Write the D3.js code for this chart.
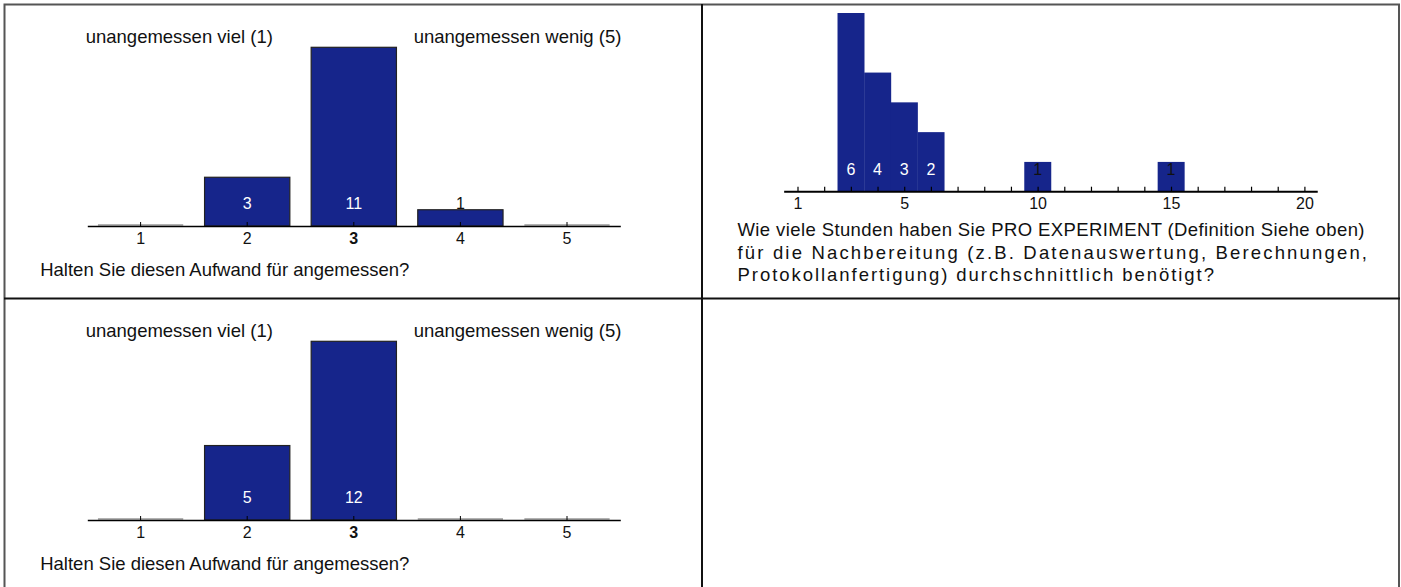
<!DOCTYPE html>
<html><head><meta charset="utf-8">
<script src="https://cdn.jsdelivr.net/npm/d3@7"></script>
<style>
html,body{margin:0;padding:0;background:#fff;}
svg{display:block;font-family:"Liberation Sans",Arial,sans-serif;}
</style></head>
<body>
<svg id="chart" width="1401" height="587"></svg>
<script>
// ---- data ----
const ratingCategories = [1, 2, 3, 4, 5];
const ratingCountsTop = [0, 3, 11, 1, 0];
const ratingCountsBottom = [0, 5, 12, 0, 0];
const ratingBoldTick = 3;
const ratingLabelLeft = "unangemessen viel (1)";
const ratingLabelRight = "unangemessen wenig (5)";
const ratingQuestion = "Halten Sie diesen Aufwand für angemessen?";

const hoursValues = [3, 4, 5, 6, 10, 15];
const hoursCounts = [6, 4, 3, 2, 1, 1];
const hoursTicks = d3.range(1, 21);
const hoursTickLabels = [1, 5, 10, 15, 20];
const hoursQuestion = [
  "Wie viele Stunden haben Sie PRO EXPERIMENT (Definition Siehe oben)",
  "für die Nachbereitung (z.B. Datenauswertung, Berechnungen,",
  "Protokollanfertigung) durchschnittlich benötigt?"
];

// ---- drawing ----
const svg = d3.select("#chart");
const BAR = "#16258b";
const TXT = "#111";
const BIG = 18.5, SMALL = 16;

// frame
svg.append("rect").attr("x", 4.5).attr("y", 4.5).attr("width", 1394.5).attr("height", 590)
  .attr("fill", "none").attr("stroke", "#555").attr("stroke-width", 2);
svg.append("line").attr("x1", 702).attr("x2", 702).attr("y1", 4).attr("y2", 587)
  .attr("stroke", "#111").attr("stroke-width", 2);
svg.append("line").attr("x1", 4).attr("x2", 1400).attr("y1", 298.5).attr("y2", 298.5)
  .attr("stroke", "#111").attr("stroke-width", 2);

function ratingPanel(counts, dy) {
  const g = svg.append("g").attr("transform", `translate(0,${dy})`);
  const x = d3.scaleBand().domain(ratingCategories).range([87.3, 620.3]).paddingInner(0.2).paddingOuter(0.1);
  const base = 226;
  const y = d3.scaleLinear().domain([0, d3.max(counts)]).range([base, 47.3]);
  const data = ratingCategories.map((c, i) => ({c, v: counts[i]}));

  g.append("text").attr("x", 85.7).attr("y", 36).attr("dominant-baseline", "central")
    .attr("font-size", BIG).attr("fill", TXT).text(ratingLabelLeft);
  g.append("text").attr("x", 621.4).attr("y", 36).attr("dominant-baseline", "central")
    .attr("text-anchor", "end").attr("font-size", BIG).attr("fill", TXT).text(ratingLabelRight);

  // zero-height baseline marks
  g.selectAll("line.zero").data(data).join("line")
    .attr("x1", d => x(d.c)).attr("x2", d => x(d.c) + x.bandwidth())
    .attr("y1", base - 1).attr("y2", base - 1).attr("stroke", "#999").attr("stroke-width", 1.5);

  g.selectAll("rect.bar").data(data.filter(d => d.v > 0)).join("rect")
    .attr("x", d => x(d.c)).attr("width", x.bandwidth())
    .attr("y", d => y(d.v)).attr("height", d => base - y(d.v))
    .attr("fill", BAR).attr("stroke", "#222").attr("stroke-width", 1.2);

  const ax = g.append("g").attr("transform", `translate(0,${base})`)
    .call(d3.axisBottom(x).tickSizeInner(-4).tickSizeOuter(0).tickPadding(7));
  ax.select(".domain").attr("stroke", "#000").attr("stroke-width", 1.5);
  ax.selectAll(".tick line").attr("stroke", "#000");
  ax.selectAll(".tick text").attr("font-size", SMALL).attr("fill", TXT)
    .attr("font-family", "Liberation Sans, Arial, sans-serif")
    .attr("font-weight", d => d === ratingBoldTick ? "bold" : "normal");

  g.selectAll("text.val").data(data.filter(d => d.v > 0)).join("text")
    .attr("x", d => x(d.c) + x.bandwidth() / 2).attr("y", base - 23)
    .attr("dominant-baseline", "central").attr("text-anchor", "middle")
    .attr("font-size", SMALL).attr("fill", d => d.v >= 2 ? "#fff" : TXT).text(d => d.v);

  g.append("text").attr("x", 40.2).attr("y", 269).attr("dominant-baseline", "central")
    .attr("font-size", BIG).attr("fill", TXT).text(ratingQuestion);
}

ratingPanel(ratingCountsTop, 0);
ratingPanel(ratingCountsBottom, 294);

// hours histogram
(function () {
  const g = svg.append("g");
  const x = d3.scaleLinear().domain([1, 20]).range([797.5, 1304.4]);
  const base = 191.7;
  const y = d3.scaleLinear().domain([0, d3.max(hoursCounts)]).range([base, 13]);
  const data = hoursValues.map((v, i) => ({v, n: hoursCounts[i]}));

  g.selectAll("rect").data(data).join("rect")
    .attr("x", d => x(d.v - 0.5)).attr("width", d => x(d.v + 0.5) - x(d.v - 0.5) + 0.3)
    .attr("y", d => y(d.n)).attr("height", d => base - y(d.n)).attr("fill", BAR);

  g.append("line").attr("x1", x(0.5)).attr("x2", x(20.5)).attr("y1", base).attr("y2", base)
    .attr("stroke", "#000").attr("stroke-width", 2);
  const ax = g.append("g").attr("transform", `translate(0,${base})`)
    .call(d3.axisBottom(x).tickValues(hoursTicks).tickSizeInner(-5).tickSizeOuter(0).tickPadding(6)
      .tickFormat(d => hoursTickLabels.includes(d) ? d : ""));
  ax.select(".domain").remove();
  ax.selectAll(".tick line").attr("stroke", "#000").attr("stroke-width", 1.2);
  ax.selectAll(".tick text").attr("font-size", SMALL).attr("fill", TXT)
    .attr("font-family", "Liberation Sans, Arial, sans-serif");

  g.selectAll("text.val").data(data).join("text")
    .attr("x", d => x(d.v)).attr("y", base - 22.7)
    .attr("dominant-baseline", "central").attr("text-anchor", "middle")
    .attr("font-size", SMALL).attr("fill", d => d.n >= 2 ? "#fff" : TXT).text(d => d.n);

  const widths = [627, 629.5, 476.5];
  const ys = [229, 252.3, 274.5];
  hoursQuestion.forEach((t, i) => {
    g.append("text").attr("x", 737.5).attr("y", ys[i]).attr("dominant-baseline", "central")
      .attr("font-size", BIG).attr("fill", TXT)
      .attr("textLength", widths[i]).attr("lengthAdjust", "spacing").text(t);
  });
})();
</script>
</body></html>
